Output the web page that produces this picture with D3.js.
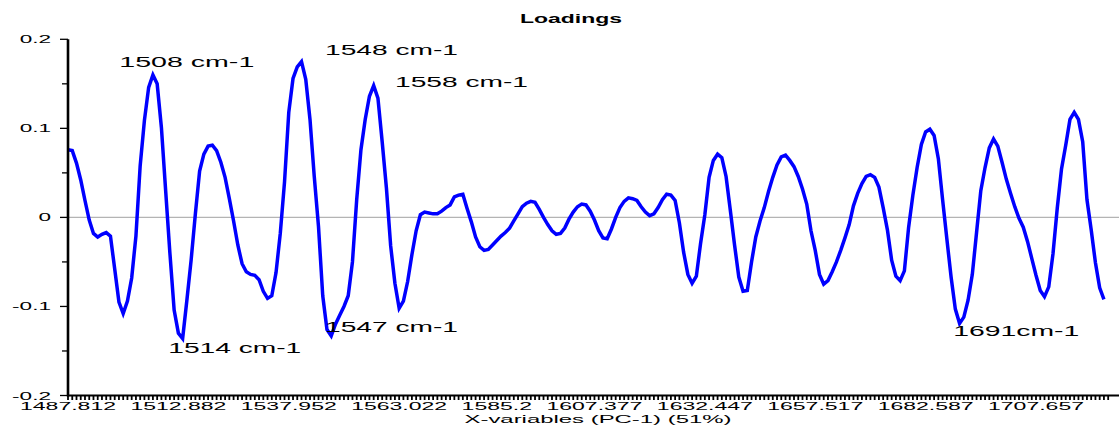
<!DOCTYPE html>
<html>
<head>
<meta charset="utf-8">
<script src="https://cdn.jsdelivr.net/npm/d3@7"></script>
<style>
  html, body { margin: 0; padding: 0; background: #fff; }
  svg { display: block; }
  text { font-family: "Liberation Sans", Arial, sans-serif; fill: #000; }
</style>
</head>
<body>
<svg id="chart" width="1119" height="427"></svg>
<script>
// PC-1 loading per X-variable (wavenumber channel), in channel order
const loadings = [
  0.076, 0.075, 0.061, 0.042, 0.019, -0.003, -0.018, -0.022, -0.019, -0.017,
  -0.021, -0.058, -0.095, -0.108, -0.094, -0.068, -0.021, 0.058, 0.109, 0.146,
  0.160, 0.150, 0.101, 0.030, -0.040, -0.104, -0.130, -0.136, -0.093, -0.048,
  0.004, 0.052, 0.071, 0.080, 0.081, 0.075, 0.062, 0.045, 0.021, -0.004,
  -0.031, -0.052, -0.061, -0.064, -0.065, -0.070, -0.083, -0.091, -0.088, -0.062,
  -0.018, 0.040, 0.118, 0.156, 0.169, 0.175, 0.155, 0.110, 0.046, -0.010,
  -0.088, -0.126, -0.133, -0.120, -0.110, -0.100, -0.088, -0.050, 0.020, 0.076,
  0.110, 0.136, 0.148, 0.134, 0.085, 0.033, -0.032, -0.074, -0.102, -0.094,
  -0.072, -0.042, -0.015, 0.003, 0.006, 0.005, 0.004, 0.004, 0.007, 0.011,
  0.014, 0.023, 0.025, 0.026, 0.010, -0.005, -0.022, -0.033, -0.037, -0.036,
  -0.031, -0.026, -0.021, -0.017, -0.012, -0.004, 0.004, 0.012, 0.016, 0.018,
  0.017, 0.009, 0.000, -0.008, -0.015, -0.019, -0.018, -0.012, -0.002, 0.006,
  0.012, 0.015, 0.014, 0.007, -0.003, -0.015, -0.023, -0.024, -0.013, 0.000,
  0.011, 0.018, 0.022, 0.021, 0.019, 0.012, 0.006, 0.002, 0.004, 0.011,
  0.020, 0.026, 0.025, 0.019, -0.006, -0.039, -0.064, -0.074, -0.066, -0.029,
  0.003, 0.045, 0.064, 0.071, 0.067, 0.046, 0.008, -0.031, -0.067, -0.083,
  -0.082, -0.050, -0.022, -0.004, 0.011, 0.029, 0.045, 0.059, 0.068, 0.070,
  0.064, 0.057, 0.046, 0.032, 0.015, -0.015, -0.037, -0.064, -0.075, -0.071,
  -0.061, -0.050, -0.037, -0.023, -0.008, 0.013, 0.027, 0.038, 0.046, 0.048,
  0.045, 0.034, 0.011, -0.014, -0.048, -0.066, -0.071, -0.060, -0.011, 0.025,
  0.056, 0.082, 0.096, 0.099, 0.092, 0.066, 0.020, -0.024, -0.067, -0.103,
  -0.119, -0.112, -0.093, -0.064, -0.017, 0.030, 0.056, 0.078, 0.088, 0.080,
  0.062, 0.043, 0.027, 0.012, -0.001, -0.011, -0.027, -0.046, -0.065, -0.082,
  -0.089, -0.078, -0.041, 0.010, 0.054, 0.081, 0.110, 0.118, 0.110, 0.085,
  0.020, -0.014, -0.051, -0.079, -0.092
];

// Labelled channels on the X axis and their wavenumbers
const xTickIndex = [0, 26, 52, 78, 101, 124, 150, 176, 202, 228];
const xTickLabels = ["1487.812", "1512.882", "1537.952", "1563.022", "1585.2",
                     "1607.377", "1632.447", "1657.517", "1682.587", "1707.657"];
const xTickCount = 246;

const yTicks = [-0.2, -0.1, 0, 0.1, 0.2];
const yTickLabels = ["-0.2", "-0.1", "0", "0.1", "0.2"];
const yMinorTicks = [-0.15, -0.05, 0.05, 0.15];

const chartTitle = "Loadings";
const xAxisTitle = "X-variables (PC-1) (51%)";
const bandLabels = ["1508 cm-1", "1548 cm-1", "1558 cm-1", "1514 cm-1", "1547 cm-1", "1691cm-1"];

// ---- layout ----
const W = 1119, H = 427;
const svg = d3.select("#chart");
svg.append("rect").attr("width", W).attr("height", H).attr("fill", "#fff");

const x = d3.scaleLinear().domain([0, 228]).range([68, 1036]);
const y = d3.scaleLinear().domain([-0.2, 0.2]).range([395.5, 39.3]);
const axisY = 395.5;

// Wide, horizontally stretched lettering
function stretch(sel, k, anchor) {
  sel.each(function () {
    const w = this.getComputedTextLength() * k;
    const x0 = +this.getAttribute("x");
    this.setAttribute("textLength", w);
    this.setAttribute("lengthAdjust", "spacingAndGlyphs");
    this.setAttribute("text-anchor", "start");
    if (anchor === "middle") this.setAttribute("x", x0 - w / 2);
    if (anchor === "end") this.setAttribute("x", x0 - w);
  });
}
function fitText(sel, width, anchor) {
  sel.each(function () {
    const x0 = +this.getAttribute("x");
    this.setAttribute("textLength", width);
    this.setAttribute("lengthAdjust", "spacingAndGlyphs");
    this.setAttribute("text-anchor", "start");
    if (anchor === "middle") this.setAttribute("x", x0 - width / 2);
  });
}

// zero reference line
svg.append("line")
  .attr("x1", x(0)).attr("x2", W)
  .attr("y1", y(0)).attr("y2", y(0))
  .attr("stroke", "#b4b4b4").attr("stroke-width", 1.2);

// loading curve
const line = d3.line().x((d, i) => x(i)).y(d => y(d));
svg.append("path")
  .datum(loadings)
  .attr("d", line)
  .attr("fill", "none")
  .attr("stroke", "#0000ff")
  .attr("stroke-width", 3.5)
  .attr("stroke-linejoin", "miter");

// Y axis
const yAxis = svg.append("g");
yAxis.append("line")
  .attr("x1", 68).attr("x2", 68)
  .attr("y1", y(0.2)).attr("y2", axisY + 1)
  .attr("stroke", "#000").attr("stroke-width", 2.6);
yAxis.selectAll("line.major").data(yTicks).join("line")
  .attr("class", "major")
  .attr("x1", 60).attr("x2", 68)
  .attr("y1", d => y(d)).attr("y2", d => y(d))
  .attr("stroke", "#000").attr("stroke-width", 1.3);
yAxis.selectAll("line.minor").data(yMinorTicks).join("line")
  .attr("class", "minor")
  .attr("x1", 62).attr("x2", 68)
  .attr("y1", d => y(d)).attr("y2", d => y(d))
  .attr("stroke", "#000").attr("stroke-width", 1.3);
yAxis.selectAll("text").data(yTicks).join("text")
  .attr("x", 51)
  .attr("y", d => y(d) + 4)
  .attr("font-size", 11)
  .text((d, i) => yTickLabels[i])
  .call(stretch, 2.05, "end");

// X axis
const xAxis = svg.append("g");
xAxis.append("line")
  .attr("x1", 67).attr("x2", W)
  .attr("y1", axisY).attr("y2", axisY)
  .attr("stroke", "#000").attr("stroke-width", 2);
xAxis.selectAll("line.tick").data(d3.range(xTickCount)).join("line")
  .attr("class", "tick")
  .attr("x1", d => x(d)).attr("x2", d => x(d))
  .attr("y1", axisY).attr("y2", axisY + 4.5)
  .attr("stroke", "#000").attr("stroke-width", 1.8);
xAxis.selectAll("text").data(xTickIndex).join("text")
  .attr("x", d => x(d))
  .attr("y", 410)
  .attr("font-size", 11.5)
  .text((d, i) => xTickLabels[i])
  .call(stretch, 2.0, "middle");

// titles
svg.append("text")
  .attr("x", 571).attr("y", 23.3)
  .attr("font-size", 13)
  .attr("font-weight", "bold")
  .text(chartTitle)
  .call(fitText, 102, "middle");
svg.append("text")
  .attr("x", 598).attr("y", 422.7)
  .attr("font-size", 10.8)
  .text(xAxisTitle)
  .call(fitText, 267, "middle");

// band annotations (left edge, baseline, width)
const bandPlacement = [
  [119.3, 66.7, 135],
  [325, 55, 133],
  [395, 87.3, 133],
  [168.3, 352.7, 133],
  [325, 332.3, 133],
  [953.3, 336, 126]
];
svg.selectAll("text.band").data(bandLabels).join("text")
  .attr("class", "band")
  .attr("x", (d, i) => bandPlacement[i][0])
  .attr("y", (d, i) => bandPlacement[i][1])
  .attr("font-size", 14)
  .text(d => d)
  .each(function (d, i) {
    this.setAttribute("textLength", bandPlacement[i][2]);
    this.setAttribute("lengthAdjust", "spacingAndGlyphs");
  });
</script>
</body>
</html>
